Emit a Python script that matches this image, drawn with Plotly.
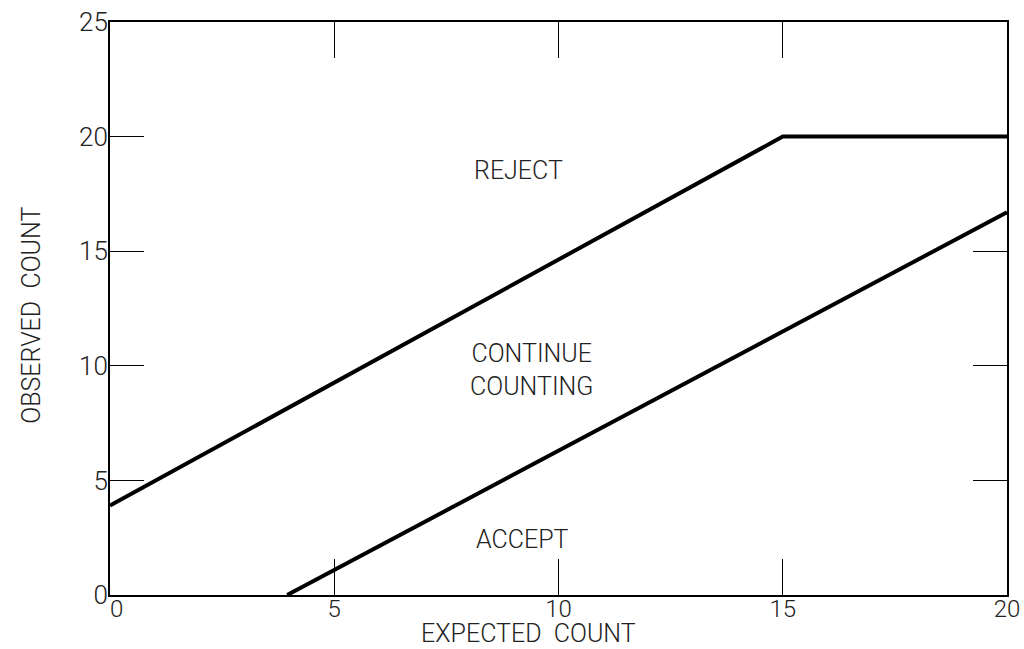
import plotly.graph_objects as go

# Data
reject_x = [0, 15, 20]
reject_y = [3.9, 20, 20]
accept_x = [3.95, 20]
accept_y = [0, 16.7]
x_ticks = [0, 5, 10, 15, 20]
x_tick_labels = ["\u20070", "5", "10", "15", "20"]
y_ticks = [0, 5, 10, 15, 20, 25]
region_labels = ["REJECT", "CONTINUE<br>COUNTING", "ACCEPT"]
label_x = [9.1, 9.4, 9.2]
label_y = [18.5, 9.8, 2.4]

FONT = "Roboto, Inter, sans-serif"
FW = 300
TC = "#222"

fig = go.Figure()
fig.add_trace(go.Scatter(x=reject_x, y=reject_y, mode="lines",
                         line=dict(color="black", width=4), showlegend=False))
fig.add_trace(go.Scatter(x=accept_x, y=accept_y, mode="lines",
                         line=dict(color="black", width=4), showlegend=False))

for t, x, y in zip(region_labels, label_x, label_y):
    fig.add_annotation(x=x, y=y, text=t, showarrow=False,
                       font=dict(family=FONT, size=25, color=TC, weight=FW), align="center")

fig.add_annotation(x=0.466, y=-0.068, xref="paper", yref="paper",
                   text="EXPECTED&nbsp;&nbsp;COUNT", showarrow=False, yanchor="middle",
                   font=dict(family=FONT, size=25, color=TC, weight=FW))
fig.add_annotation(x=-0.087, y=0.489, xref="paper", yref="paper",
                   text="OBSERVED&nbsp;&nbsp;COUNT", showarrow=False, textangle=-90,
                   xanchor="center", yanchor="middle",
                   font=dict(family=FONT, size=25, color=TC, weight=FW))

fig.update_xaxes(range=[0, 20], tickvals=x_ticks, ticktext=x_tick_labels,
                 ticks="inside", ticklen=36,
                 tickcolor="black", tickwidth=1.3, showline=True, linecolor="black",
                 linewidth=2, mirror="ticks", showgrid=False, zeroline=False,
                 automargin=False, ticklabelstandoff=-9,
                 tickfont=dict(family=FONT, size=24, color=TC, weight=FW))
fig.update_yaxes(range=[0, 25], tickvals=y_ticks, ticks="inside", ticklen=34,
                 tickcolor="black", tickwidth=1.3, showline=True, linecolor="black",
                 linewidth=2, mirror="ticks", showgrid=False, zeroline=False,
                 automargin=False, ticklabelstandoff=-5,
                 tickfont=dict(family=FONT, size=26, color=TC, weight=FW))

fig.update_layout(width=1024, height=649, plot_bgcolor="white", paper_bgcolor="white",
                  margin=dict(l=110, r=17, t=22, b=54, autoexpand=False))
fig.write_html("out.html", config={"displayModeBar": False},
               post_script="document.body.style.margin='0';")
